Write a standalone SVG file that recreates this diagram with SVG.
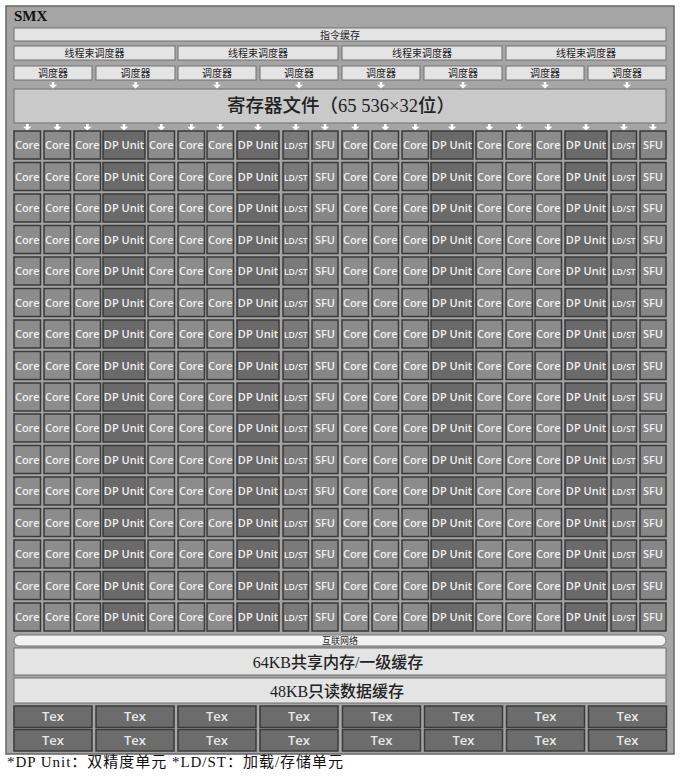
<svg xmlns="http://www.w3.org/2000/svg" width="681" height="779" viewBox="0 0 681 779">
<style>
.bar{fill:#e4e4e4;stroke:#707070;stroke-width:1}
.lbl{font-family:"Liberation Serif","Noto Sans CJK SC",serif;fill:#222;text-anchor:middle}
.cell rect{y:-18px;height:28px;stroke:#3a3a3a;stroke-width:1.5}
.cell text{font-family:"Open Sans","DejaVu Sans",sans-serif;font-size:11px;font-weight:600;fill:#f0f0f0;text-anchor:middle}
.co rect{width:26.5px;fill:#8c8c8c}
.dp rect{width:42px;fill:#6a6a6a}
.ls rect{width:25.5px;fill:#7a7a7a}
.ls text{font-size:8.5px}
.sf rect{width:26px;fill:#868686}
.tex rect{width:78px;height:21.5px;fill:#6c6c6c;stroke:#3a3a3a;stroke-width:1.5}
.tex text{font-family:"Open Sans","DejaVu Sans",sans-serif;font-size:13px;font-weight:600;fill:#e8e8e8;text-anchor:middle}
</style>
<defs>
<path id="arrow" d="M-1.3 0h2.6v2.8h2.8l-4.1 3.6l-4.1-3.6h2.8z" fill="#ffffff"/>
</defs>
<rect width="681" height="779" fill="#ffffff"/>
<g id="smx">
<rect x="6" y="6" width="668" height="748" fill="#a5a5a5" stroke="#666" stroke-width="1.5"/>
<text x="14" y="21" font-family="Liberation Serif, serif" font-size="15" font-weight="bold" fill="#111">SMX</text>
</g>
<g id="instruction-cache">
<rect class="bar" x="14" y="28" width="652" height="13" fill="#ececec"/>
<text class="lbl" x="340" y="38.5" font-size="10">指令缓存</text>
</g>
<g id="warp-schedulers">
<g id="warp-1"><rect class="bar" x="14" y="46" width="161" height="14"/><text class="lbl" x="94.5" y="57" font-size="10">线程束调度器</text></g>
<g id="warp-2"><rect class="bar" x="178" y="46" width="160" height="14"/><text class="lbl" x="258" y="57" font-size="10">线程束调度器</text></g>
<g id="warp-3"><rect class="bar" x="342" y="46" width="160" height="14"/><text class="lbl" x="422" y="57" font-size="10">线程束调度器</text></g>
<g id="warp-4"><rect class="bar" x="506" y="46" width="160" height="14"/><text class="lbl" x="586" y="57" font-size="10">线程束调度器</text></g>
</g>
<g id="dispatchers">
<g id="disp-1"><rect class="bar" x="14" y="66" width="78" height="14"/><text class="lbl" x="53" y="77" font-size="10">调度器</text></g>
<g id="disp-2"><rect class="bar" x="96" y="66" width="79" height="14"/><text class="lbl" x="135.5" y="77" font-size="10">调度器</text></g>
<g id="disp-3"><rect class="bar" x="178" y="66" width="78" height="14"/><text class="lbl" x="217" y="77" font-size="10">调度器</text></g>
<g id="disp-4"><rect class="bar" x="260" y="66" width="78" height="14"/><text class="lbl" x="299" y="77" font-size="10">调度器</text></g>
<g id="disp-5"><rect class="bar" x="342" y="66" width="78" height="14"/><text class="lbl" x="381" y="77" font-size="10">调度器</text></g>
<g id="disp-6"><rect class="bar" x="424" y="66" width="78" height="14"/><text class="lbl" x="463" y="77" font-size="10">调度器</text></g>
<g id="disp-7"><rect class="bar" x="506" y="66" width="78" height="14"/><text class="lbl" x="545" y="77" font-size="10">调度器</text></g>
<g id="disp-8"><rect class="bar" x="588" y="66" width="78" height="14"/><text class="lbl" x="627" y="77" font-size="10">调度器</text></g>
</g>
<g id="register-file">
<rect x="14" y="89" width="652" height="34" fill="#c9c9c9" stroke="#707070" stroke-width="1"/>
<text class="lbl" x="341" y="112" font-size="18.5" font-weight="500">寄存器文件（65 536×32位）</text>
</g>
<g id="connectors">
<use href="#arrow" x="53" y="82"/><use href="#arrow" x="135.5" y="82"/><use href="#arrow" x="217" y="82"/><use href="#arrow" x="299" y="82"/>
<use href="#arrow" x="381" y="82"/><use href="#arrow" x="463" y="82"/><use href="#arrow" x="545" y="82"/><use href="#arrow" x="627" y="82"/>
<use href="#arrow" x="27.3" y="124"/><use href="#arrow" x="57.3" y="124"/><use href="#arrow" x="87.3" y="124"/><use href="#arrow" x="124" y="124"/>
<use href="#arrow" x="161.3" y="124"/><use href="#arrow" x="191.3" y="124"/><use href="#arrow" x="220.3" y="124"/><use href="#arrow" x="258" y="124"/>
<use href="#arrow" x="295.8" y="124"/><use href="#arrow" x="325" y="124"/><use href="#arrow" x="355.3" y="124"/><use href="#arrow" x="385.3" y="124"/>
<use href="#arrow" x="415.3" y="124"/><use href="#arrow" x="452" y="124"/><use href="#arrow" x="489.3" y="124"/><use href="#arrow" x="519.3" y="124"/>
<use href="#arrow" x="548.3" y="124"/><use href="#arrow" x="586" y="124"/><use href="#arrow" x="623.8" y="124"/><use href="#arrow" x="653" y="124"/>
</g>
<g id="cores">
<g id="row-1" class="cell" transform="translate(0,149)">
<g id="r1c1" class="co"><rect x="14"/><text x="27.3">Core</text></g><g id="r1c2" class="co"><rect x="44"/><text x="57.3">Core</text></g><g id="r1c3" class="co"><rect x="74"/><text x="87.3">Core</text></g><g id="r1c4" class="dp"><rect x="103"/><text x="124">DP Unit</text></g><g id="r1c5" class="co"><rect x="148"/><text x="161.3">Core</text></g><g id="r1c6" class="co"><rect x="178"/><text x="191.3">Core</text></g><g id="r1c7" class="co"><rect x="207"/><text x="220.3">Core</text></g><g id="r1c8" class="dp"><rect x="237"/><text x="258">DP Unit</text></g><g id="r1c9" class="ls"><rect x="283"/><text x="295.8">LD/ST</text></g><g id="r1c10" class="sf"><rect x="312"/><text x="325">SFU</text></g>
<g id="r1c11" class="co"><rect x="342"/><text x="355.3">Core</text></g><g id="r1c12" class="co"><rect x="372"/><text x="385.3">Core</text></g><g id="r1c13" class="co"><rect x="402"/><text x="415.3">Core</text></g><g id="r1c14" class="dp"><rect x="431"/><text x="452">DP Unit</text></g><g id="r1c15" class="co"><rect x="476"/><text x="489.3">Core</text></g><g id="r1c16" class="co"><rect x="506"/><text x="519.3">Core</text></g><g id="r1c17" class="co"><rect x="535"/><text x="548.3">Core</text></g><g id="r1c18" class="dp"><rect x="565"/><text x="586">DP Unit</text></g><g id="r1c19" class="ls"><rect x="611"/><text x="623.8">LD/ST</text></g><g id="r1c20" class="sf"><rect x="640"/><text x="653">SFU</text></g>
</g>
<g id="row-2" class="cell" transform="translate(0,180.5)">
<g id="r2c1" class="co"><rect x="14"/><text x="27.3">Core</text></g><g id="r2c2" class="co"><rect x="44"/><text x="57.3">Core</text></g><g id="r2c3" class="co"><rect x="74"/><text x="87.3">Core</text></g><g id="r2c4" class="dp"><rect x="103"/><text x="124">DP Unit</text></g><g id="r2c5" class="co"><rect x="148"/><text x="161.3">Core</text></g><g id="r2c6" class="co"><rect x="178"/><text x="191.3">Core</text></g><g id="r2c7" class="co"><rect x="207"/><text x="220.3">Core</text></g><g id="r2c8" class="dp"><rect x="237"/><text x="258">DP Unit</text></g><g id="r2c9" class="ls"><rect x="283"/><text x="295.8">LD/ST</text></g><g id="r2c10" class="sf"><rect x="312"/><text x="325">SFU</text></g>
<g id="r2c11" class="co"><rect x="342"/><text x="355.3">Core</text></g><g id="r2c12" class="co"><rect x="372"/><text x="385.3">Core</text></g><g id="r2c13" class="co"><rect x="402"/><text x="415.3">Core</text></g><g id="r2c14" class="dp"><rect x="431"/><text x="452">DP Unit</text></g><g id="r2c15" class="co"><rect x="476"/><text x="489.3">Core</text></g><g id="r2c16" class="co"><rect x="506"/><text x="519.3">Core</text></g><g id="r2c17" class="co"><rect x="535"/><text x="548.3">Core</text></g><g id="r2c18" class="dp"><rect x="565"/><text x="586">DP Unit</text></g><g id="r2c19" class="ls"><rect x="611"/><text x="623.8">LD/ST</text></g><g id="r2c20" class="sf"><rect x="640"/><text x="653">SFU</text></g>
</g>
<g id="row-3" class="cell" transform="translate(0,212)">
<g id="r3c1" class="co"><rect x="14"/><text x="27.3">Core</text></g><g id="r3c2" class="co"><rect x="44"/><text x="57.3">Core</text></g><g id="r3c3" class="co"><rect x="74"/><text x="87.3">Core</text></g><g id="r3c4" class="dp"><rect x="103"/><text x="124">DP Unit</text></g><g id="r3c5" class="co"><rect x="148"/><text x="161.3">Core</text></g><g id="r3c6" class="co"><rect x="178"/><text x="191.3">Core</text></g><g id="r3c7" class="co"><rect x="207"/><text x="220.3">Core</text></g><g id="r3c8" class="dp"><rect x="237"/><text x="258">DP Unit</text></g><g id="r3c9" class="ls"><rect x="283"/><text x="295.8">LD/ST</text></g><g id="r3c10" class="sf"><rect x="312"/><text x="325">SFU</text></g>
<g id="r3c11" class="co"><rect x="342"/><text x="355.3">Core</text></g><g id="r3c12" class="co"><rect x="372"/><text x="385.3">Core</text></g><g id="r3c13" class="co"><rect x="402"/><text x="415.3">Core</text></g><g id="r3c14" class="dp"><rect x="431"/><text x="452">DP Unit</text></g><g id="r3c15" class="co"><rect x="476"/><text x="489.3">Core</text></g><g id="r3c16" class="co"><rect x="506"/><text x="519.3">Core</text></g><g id="r3c17" class="co"><rect x="535"/><text x="548.3">Core</text></g><g id="r3c18" class="dp"><rect x="565"/><text x="586">DP Unit</text></g><g id="r3c19" class="ls"><rect x="611"/><text x="623.8">LD/ST</text></g><g id="r3c20" class="sf"><rect x="640"/><text x="653">SFU</text></g>
</g>
<g id="row-4" class="cell" transform="translate(0,243.5)">
<g id="r4c1" class="co"><rect x="14"/><text x="27.3">Core</text></g><g id="r4c2" class="co"><rect x="44"/><text x="57.3">Core</text></g><g id="r4c3" class="co"><rect x="74"/><text x="87.3">Core</text></g><g id="r4c4" class="dp"><rect x="103"/><text x="124">DP Unit</text></g><g id="r4c5" class="co"><rect x="148"/><text x="161.3">Core</text></g><g id="r4c6" class="co"><rect x="178"/><text x="191.3">Core</text></g><g id="r4c7" class="co"><rect x="207"/><text x="220.3">Core</text></g><g id="r4c8" class="dp"><rect x="237"/><text x="258">DP Unit</text></g><g id="r4c9" class="ls"><rect x="283"/><text x="295.8">LD/ST</text></g><g id="r4c10" class="sf"><rect x="312"/><text x="325">SFU</text></g>
<g id="r4c11" class="co"><rect x="342"/><text x="355.3">Core</text></g><g id="r4c12" class="co"><rect x="372"/><text x="385.3">Core</text></g><g id="r4c13" class="co"><rect x="402"/><text x="415.3">Core</text></g><g id="r4c14" class="dp"><rect x="431"/><text x="452">DP Unit</text></g><g id="r4c15" class="co"><rect x="476"/><text x="489.3">Core</text></g><g id="r4c16" class="co"><rect x="506"/><text x="519.3">Core</text></g><g id="r4c17" class="co"><rect x="535"/><text x="548.3">Core</text></g><g id="r4c18" class="dp"><rect x="565"/><text x="586">DP Unit</text></g><g id="r4c19" class="ls"><rect x="611"/><text x="623.8">LD/ST</text></g><g id="r4c20" class="sf"><rect x="640"/><text x="653">SFU</text></g>
</g>
<g id="row-5" class="cell" transform="translate(0,275)">
<g id="r5c1" class="co"><rect x="14"/><text x="27.3">Core</text></g><g id="r5c2" class="co"><rect x="44"/><text x="57.3">Core</text></g><g id="r5c3" class="co"><rect x="74"/><text x="87.3">Core</text></g><g id="r5c4" class="dp"><rect x="103"/><text x="124">DP Unit</text></g><g id="r5c5" class="co"><rect x="148"/><text x="161.3">Core</text></g><g id="r5c6" class="co"><rect x="178"/><text x="191.3">Core</text></g><g id="r5c7" class="co"><rect x="207"/><text x="220.3">Core</text></g><g id="r5c8" class="dp"><rect x="237"/><text x="258">DP Unit</text></g><g id="r5c9" class="ls"><rect x="283"/><text x="295.8">LD/ST</text></g><g id="r5c10" class="sf"><rect x="312"/><text x="325">SFU</text></g>
<g id="r5c11" class="co"><rect x="342"/><text x="355.3">Core</text></g><g id="r5c12" class="co"><rect x="372"/><text x="385.3">Core</text></g><g id="r5c13" class="co"><rect x="402"/><text x="415.3">Core</text></g><g id="r5c14" class="dp"><rect x="431"/><text x="452">DP Unit</text></g><g id="r5c15" class="co"><rect x="476"/><text x="489.3">Core</text></g><g id="r5c16" class="co"><rect x="506"/><text x="519.3">Core</text></g><g id="r5c17" class="co"><rect x="535"/><text x="548.3">Core</text></g><g id="r5c18" class="dp"><rect x="565"/><text x="586">DP Unit</text></g><g id="r5c19" class="ls"><rect x="611"/><text x="623.8">LD/ST</text></g><g id="r5c20" class="sf"><rect x="640"/><text x="653">SFU</text></g>
</g>
<g id="row-6" class="cell" transform="translate(0,306.5)">
<g id="r6c1" class="co"><rect x="14"/><text x="27.3">Core</text></g><g id="r6c2" class="co"><rect x="44"/><text x="57.3">Core</text></g><g id="r6c3" class="co"><rect x="74"/><text x="87.3">Core</text></g><g id="r6c4" class="dp"><rect x="103"/><text x="124">DP Unit</text></g><g id="r6c5" class="co"><rect x="148"/><text x="161.3">Core</text></g><g id="r6c6" class="co"><rect x="178"/><text x="191.3">Core</text></g><g id="r6c7" class="co"><rect x="207"/><text x="220.3">Core</text></g><g id="r6c8" class="dp"><rect x="237"/><text x="258">DP Unit</text></g><g id="r6c9" class="ls"><rect x="283"/><text x="295.8">LD/ST</text></g><g id="r6c10" class="sf"><rect x="312"/><text x="325">SFU</text></g>
<g id="r6c11" class="co"><rect x="342"/><text x="355.3">Core</text></g><g id="r6c12" class="co"><rect x="372"/><text x="385.3">Core</text></g><g id="r6c13" class="co"><rect x="402"/><text x="415.3">Core</text></g><g id="r6c14" class="dp"><rect x="431"/><text x="452">DP Unit</text></g><g id="r6c15" class="co"><rect x="476"/><text x="489.3">Core</text></g><g id="r6c16" class="co"><rect x="506"/><text x="519.3">Core</text></g><g id="r6c17" class="co"><rect x="535"/><text x="548.3">Core</text></g><g id="r6c18" class="dp"><rect x="565"/><text x="586">DP Unit</text></g><g id="r6c19" class="ls"><rect x="611"/><text x="623.8">LD/ST</text></g><g id="r6c20" class="sf"><rect x="640"/><text x="653">SFU</text></g>
</g>
<g id="row-7" class="cell" transform="translate(0,338)">
<g id="r7c1" class="co"><rect x="14"/><text x="27.3">Core</text></g><g id="r7c2" class="co"><rect x="44"/><text x="57.3">Core</text></g><g id="r7c3" class="co"><rect x="74"/><text x="87.3">Core</text></g><g id="r7c4" class="dp"><rect x="103"/><text x="124">DP Unit</text></g><g id="r7c5" class="co"><rect x="148"/><text x="161.3">Core</text></g><g id="r7c6" class="co"><rect x="178"/><text x="191.3">Core</text></g><g id="r7c7" class="co"><rect x="207"/><text x="220.3">Core</text></g><g id="r7c8" class="dp"><rect x="237"/><text x="258">DP Unit</text></g><g id="r7c9" class="ls"><rect x="283"/><text x="295.8">LD/ST</text></g><g id="r7c10" class="sf"><rect x="312"/><text x="325">SFU</text></g>
<g id="r7c11" class="co"><rect x="342"/><text x="355.3">Core</text></g><g id="r7c12" class="co"><rect x="372"/><text x="385.3">Core</text></g><g id="r7c13" class="co"><rect x="402"/><text x="415.3">Core</text></g><g id="r7c14" class="dp"><rect x="431"/><text x="452">DP Unit</text></g><g id="r7c15" class="co"><rect x="476"/><text x="489.3">Core</text></g><g id="r7c16" class="co"><rect x="506"/><text x="519.3">Core</text></g><g id="r7c17" class="co"><rect x="535"/><text x="548.3">Core</text></g><g id="r7c18" class="dp"><rect x="565"/><text x="586">DP Unit</text></g><g id="r7c19" class="ls"><rect x="611"/><text x="623.8">LD/ST</text></g><g id="r7c20" class="sf"><rect x="640"/><text x="653">SFU</text></g>
</g>
<g id="row-8" class="cell" transform="translate(0,369.5)">
<g id="r8c1" class="co"><rect x="14"/><text x="27.3">Core</text></g><g id="r8c2" class="co"><rect x="44"/><text x="57.3">Core</text></g><g id="r8c3" class="co"><rect x="74"/><text x="87.3">Core</text></g><g id="r8c4" class="dp"><rect x="103"/><text x="124">DP Unit</text></g><g id="r8c5" class="co"><rect x="148"/><text x="161.3">Core</text></g><g id="r8c6" class="co"><rect x="178"/><text x="191.3">Core</text></g><g id="r8c7" class="co"><rect x="207"/><text x="220.3">Core</text></g><g id="r8c8" class="dp"><rect x="237"/><text x="258">DP Unit</text></g><g id="r8c9" class="ls"><rect x="283"/><text x="295.8">LD/ST</text></g><g id="r8c10" class="sf"><rect x="312"/><text x="325">SFU</text></g>
<g id="r8c11" class="co"><rect x="342"/><text x="355.3">Core</text></g><g id="r8c12" class="co"><rect x="372"/><text x="385.3">Core</text></g><g id="r8c13" class="co"><rect x="402"/><text x="415.3">Core</text></g><g id="r8c14" class="dp"><rect x="431"/><text x="452">DP Unit</text></g><g id="r8c15" class="co"><rect x="476"/><text x="489.3">Core</text></g><g id="r8c16" class="co"><rect x="506"/><text x="519.3">Core</text></g><g id="r8c17" class="co"><rect x="535"/><text x="548.3">Core</text></g><g id="r8c18" class="dp"><rect x="565"/><text x="586">DP Unit</text></g><g id="r8c19" class="ls"><rect x="611"/><text x="623.8">LD/ST</text></g><g id="r8c20" class="sf"><rect x="640"/><text x="653">SFU</text></g>
</g>
<g id="row-9" class="cell" transform="translate(0,401)">
<g id="r9c1" class="co"><rect x="14"/><text x="27.3">Core</text></g><g id="r9c2" class="co"><rect x="44"/><text x="57.3">Core</text></g><g id="r9c3" class="co"><rect x="74"/><text x="87.3">Core</text></g><g id="r9c4" class="dp"><rect x="103"/><text x="124">DP Unit</text></g><g id="r9c5" class="co"><rect x="148"/><text x="161.3">Core</text></g><g id="r9c6" class="co"><rect x="178"/><text x="191.3">Core</text></g><g id="r9c7" class="co"><rect x="207"/><text x="220.3">Core</text></g><g id="r9c8" class="dp"><rect x="237"/><text x="258">DP Unit</text></g><g id="r9c9" class="ls"><rect x="283"/><text x="295.8">LD/ST</text></g><g id="r9c10" class="sf"><rect x="312"/><text x="325">SFU</text></g>
<g id="r9c11" class="co"><rect x="342"/><text x="355.3">Core</text></g><g id="r9c12" class="co"><rect x="372"/><text x="385.3">Core</text></g><g id="r9c13" class="co"><rect x="402"/><text x="415.3">Core</text></g><g id="r9c14" class="dp"><rect x="431"/><text x="452">DP Unit</text></g><g id="r9c15" class="co"><rect x="476"/><text x="489.3">Core</text></g><g id="r9c16" class="co"><rect x="506"/><text x="519.3">Core</text></g><g id="r9c17" class="co"><rect x="535"/><text x="548.3">Core</text></g><g id="r9c18" class="dp"><rect x="565"/><text x="586">DP Unit</text></g><g id="r9c19" class="ls"><rect x="611"/><text x="623.8">LD/ST</text></g><g id="r9c20" class="sf"><rect x="640"/><text x="653">SFU</text></g>
</g>
<g id="row-10" class="cell" transform="translate(0,432)">
<g id="r10c1" class="co"><rect x="14"/><text x="27.3">Core</text></g><g id="r10c2" class="co"><rect x="44"/><text x="57.3">Core</text></g><g id="r10c3" class="co"><rect x="74"/><text x="87.3">Core</text></g><g id="r10c4" class="dp"><rect x="103"/><text x="124">DP Unit</text></g><g id="r10c5" class="co"><rect x="148"/><text x="161.3">Core</text></g><g id="r10c6" class="co"><rect x="178"/><text x="191.3">Core</text></g><g id="r10c7" class="co"><rect x="207"/><text x="220.3">Core</text></g><g id="r10c8" class="dp"><rect x="237"/><text x="258">DP Unit</text></g><g id="r10c9" class="ls"><rect x="283"/><text x="295.8">LD/ST</text></g><g id="r10c10" class="sf"><rect x="312"/><text x="325">SFU</text></g>
<g id="r10c11" class="co"><rect x="342"/><text x="355.3">Core</text></g><g id="r10c12" class="co"><rect x="372"/><text x="385.3">Core</text></g><g id="r10c13" class="co"><rect x="402"/><text x="415.3">Core</text></g><g id="r10c14" class="dp"><rect x="431"/><text x="452">DP Unit</text></g><g id="r10c15" class="co"><rect x="476"/><text x="489.3">Core</text></g><g id="r10c16" class="co"><rect x="506"/><text x="519.3">Core</text></g><g id="r10c17" class="co"><rect x="535"/><text x="548.3">Core</text></g><g id="r10c18" class="dp"><rect x="565"/><text x="586">DP Unit</text></g><g id="r10c19" class="ls"><rect x="611"/><text x="623.8">LD/ST</text></g><g id="r10c20" class="sf"><rect x="640"/><text x="653">SFU</text></g>
</g>
<g id="row-11" class="cell" transform="translate(0,463.5)">
<g id="r11c1" class="co"><rect x="14"/><text x="27.3">Core</text></g><g id="r11c2" class="co"><rect x="44"/><text x="57.3">Core</text></g><g id="r11c3" class="co"><rect x="74"/><text x="87.3">Core</text></g><g id="r11c4" class="dp"><rect x="103"/><text x="124">DP Unit</text></g><g id="r11c5" class="co"><rect x="148"/><text x="161.3">Core</text></g><g id="r11c6" class="co"><rect x="178"/><text x="191.3">Core</text></g><g id="r11c7" class="co"><rect x="207"/><text x="220.3">Core</text></g><g id="r11c8" class="dp"><rect x="237"/><text x="258">DP Unit</text></g><g id="r11c9" class="ls"><rect x="283"/><text x="295.8">LD/ST</text></g><g id="r11c10" class="sf"><rect x="312"/><text x="325">SFU</text></g>
<g id="r11c11" class="co"><rect x="342"/><text x="355.3">Core</text></g><g id="r11c12" class="co"><rect x="372"/><text x="385.3">Core</text></g><g id="r11c13" class="co"><rect x="402"/><text x="415.3">Core</text></g><g id="r11c14" class="dp"><rect x="431"/><text x="452">DP Unit</text></g><g id="r11c15" class="co"><rect x="476"/><text x="489.3">Core</text></g><g id="r11c16" class="co"><rect x="506"/><text x="519.3">Core</text></g><g id="r11c17" class="co"><rect x="535"/><text x="548.3">Core</text></g><g id="r11c18" class="dp"><rect x="565"/><text x="586">DP Unit</text></g><g id="r11c19" class="ls"><rect x="611"/><text x="623.8">LD/ST</text></g><g id="r11c20" class="sf"><rect x="640"/><text x="653">SFU</text></g>
</g>
<g id="row-12" class="cell" transform="translate(0,495)">
<g id="r12c1" class="co"><rect x="14"/><text x="27.3">Core</text></g><g id="r12c2" class="co"><rect x="44"/><text x="57.3">Core</text></g><g id="r12c3" class="co"><rect x="74"/><text x="87.3">Core</text></g><g id="r12c4" class="dp"><rect x="103"/><text x="124">DP Unit</text></g><g id="r12c5" class="co"><rect x="148"/><text x="161.3">Core</text></g><g id="r12c6" class="co"><rect x="178"/><text x="191.3">Core</text></g><g id="r12c7" class="co"><rect x="207"/><text x="220.3">Core</text></g><g id="r12c8" class="dp"><rect x="237"/><text x="258">DP Unit</text></g><g id="r12c9" class="ls"><rect x="283"/><text x="295.8">LD/ST</text></g><g id="r12c10" class="sf"><rect x="312"/><text x="325">SFU</text></g>
<g id="r12c11" class="co"><rect x="342"/><text x="355.3">Core</text></g><g id="r12c12" class="co"><rect x="372"/><text x="385.3">Core</text></g><g id="r12c13" class="co"><rect x="402"/><text x="415.3">Core</text></g><g id="r12c14" class="dp"><rect x="431"/><text x="452">DP Unit</text></g><g id="r12c15" class="co"><rect x="476"/><text x="489.3">Core</text></g><g id="r12c16" class="co"><rect x="506"/><text x="519.3">Core</text></g><g id="r12c17" class="co"><rect x="535"/><text x="548.3">Core</text></g><g id="r12c18" class="dp"><rect x="565"/><text x="586">DP Unit</text></g><g id="r12c19" class="ls"><rect x="611"/><text x="623.8">LD/ST</text></g><g id="r12c20" class="sf"><rect x="640"/><text x="653">SFU</text></g>
</g>
<g id="row-13" class="cell" transform="translate(0,526.5)">
<g id="r13c1" class="co"><rect x="14"/><text x="27.3">Core</text></g><g id="r13c2" class="co"><rect x="44"/><text x="57.3">Core</text></g><g id="r13c3" class="co"><rect x="74"/><text x="87.3">Core</text></g><g id="r13c4" class="dp"><rect x="103"/><text x="124">DP Unit</text></g><g id="r13c5" class="co"><rect x="148"/><text x="161.3">Core</text></g><g id="r13c6" class="co"><rect x="178"/><text x="191.3">Core</text></g><g id="r13c7" class="co"><rect x="207"/><text x="220.3">Core</text></g><g id="r13c8" class="dp"><rect x="237"/><text x="258">DP Unit</text></g><g id="r13c9" class="ls"><rect x="283"/><text x="295.8">LD/ST</text></g><g id="r13c10" class="sf"><rect x="312"/><text x="325">SFU</text></g>
<g id="r13c11" class="co"><rect x="342"/><text x="355.3">Core</text></g><g id="r13c12" class="co"><rect x="372"/><text x="385.3">Core</text></g><g id="r13c13" class="co"><rect x="402"/><text x="415.3">Core</text></g><g id="r13c14" class="dp"><rect x="431"/><text x="452">DP Unit</text></g><g id="r13c15" class="co"><rect x="476"/><text x="489.3">Core</text></g><g id="r13c16" class="co"><rect x="506"/><text x="519.3">Core</text></g><g id="r13c17" class="co"><rect x="535"/><text x="548.3">Core</text></g><g id="r13c18" class="dp"><rect x="565"/><text x="586">DP Unit</text></g><g id="r13c19" class="ls"><rect x="611"/><text x="623.8">LD/ST</text></g><g id="r13c20" class="sf"><rect x="640"/><text x="653">SFU</text></g>
</g>
<g id="row-14" class="cell" transform="translate(0,558)">
<g id="r14c1" class="co"><rect x="14"/><text x="27.3">Core</text></g><g id="r14c2" class="co"><rect x="44"/><text x="57.3">Core</text></g><g id="r14c3" class="co"><rect x="74"/><text x="87.3">Core</text></g><g id="r14c4" class="dp"><rect x="103"/><text x="124">DP Unit</text></g><g id="r14c5" class="co"><rect x="148"/><text x="161.3">Core</text></g><g id="r14c6" class="co"><rect x="178"/><text x="191.3">Core</text></g><g id="r14c7" class="co"><rect x="207"/><text x="220.3">Core</text></g><g id="r14c8" class="dp"><rect x="237"/><text x="258">DP Unit</text></g><g id="r14c9" class="ls"><rect x="283"/><text x="295.8">LD/ST</text></g><g id="r14c10" class="sf"><rect x="312"/><text x="325">SFU</text></g>
<g id="r14c11" class="co"><rect x="342"/><text x="355.3">Core</text></g><g id="r14c12" class="co"><rect x="372"/><text x="385.3">Core</text></g><g id="r14c13" class="co"><rect x="402"/><text x="415.3">Core</text></g><g id="r14c14" class="dp"><rect x="431"/><text x="452">DP Unit</text></g><g id="r14c15" class="co"><rect x="476"/><text x="489.3">Core</text></g><g id="r14c16" class="co"><rect x="506"/><text x="519.3">Core</text></g><g id="r14c17" class="co"><rect x="535"/><text x="548.3">Core</text></g><g id="r14c18" class="dp"><rect x="565"/><text x="586">DP Unit</text></g><g id="r14c19" class="ls"><rect x="611"/><text x="623.8">LD/ST</text></g><g id="r14c20" class="sf"><rect x="640"/><text x="653">SFU</text></g>
</g>
<g id="row-15" class="cell" transform="translate(0,589.5)">
<g id="r15c1" class="co"><rect x="14"/><text x="27.3">Core</text></g><g id="r15c2" class="co"><rect x="44"/><text x="57.3">Core</text></g><g id="r15c3" class="co"><rect x="74"/><text x="87.3">Core</text></g><g id="r15c4" class="dp"><rect x="103"/><text x="124">DP Unit</text></g><g id="r15c5" class="co"><rect x="148"/><text x="161.3">Core</text></g><g id="r15c6" class="co"><rect x="178"/><text x="191.3">Core</text></g><g id="r15c7" class="co"><rect x="207"/><text x="220.3">Core</text></g><g id="r15c8" class="dp"><rect x="237"/><text x="258">DP Unit</text></g><g id="r15c9" class="ls"><rect x="283"/><text x="295.8">LD/ST</text></g><g id="r15c10" class="sf"><rect x="312"/><text x="325">SFU</text></g>
<g id="r15c11" class="co"><rect x="342"/><text x="355.3">Core</text></g><g id="r15c12" class="co"><rect x="372"/><text x="385.3">Core</text></g><g id="r15c13" class="co"><rect x="402"/><text x="415.3">Core</text></g><g id="r15c14" class="dp"><rect x="431"/><text x="452">DP Unit</text></g><g id="r15c15" class="co"><rect x="476"/><text x="489.3">Core</text></g><g id="r15c16" class="co"><rect x="506"/><text x="519.3">Core</text></g><g id="r15c17" class="co"><rect x="535"/><text x="548.3">Core</text></g><g id="r15c18" class="dp"><rect x="565"/><text x="586">DP Unit</text></g><g id="r15c19" class="ls"><rect x="611"/><text x="623.8">LD/ST</text></g><g id="r15c20" class="sf"><rect x="640"/><text x="653">SFU</text></g>
</g>
<g id="row-16" class="cell" transform="translate(0,621)">
<g id="r16c1" class="co"><rect x="14"/><text x="27.3">Core</text></g><g id="r16c2" class="co"><rect x="44"/><text x="57.3">Core</text></g><g id="r16c3" class="co"><rect x="74"/><text x="87.3">Core</text></g><g id="r16c4" class="dp"><rect x="103"/><text x="124">DP Unit</text></g><g id="r16c5" class="co"><rect x="148"/><text x="161.3">Core</text></g><g id="r16c6" class="co"><rect x="178"/><text x="191.3">Core</text></g><g id="r16c7" class="co"><rect x="207"/><text x="220.3">Core</text></g><g id="r16c8" class="dp"><rect x="237"/><text x="258">DP Unit</text></g><g id="r16c9" class="ls"><rect x="283"/><text x="295.8">LD/ST</text></g><g id="r16c10" class="sf"><rect x="312"/><text x="325">SFU</text></g>
<g id="r16c11" class="co"><rect x="342"/><text x="355.3">Core</text></g><g id="r16c12" class="co"><rect x="372"/><text x="385.3">Core</text></g><g id="r16c13" class="co"><rect x="402"/><text x="415.3">Core</text></g><g id="r16c14" class="dp"><rect x="431"/><text x="452">DP Unit</text></g><g id="r16c15" class="co"><rect x="476"/><text x="489.3">Core</text></g><g id="r16c16" class="co"><rect x="506"/><text x="519.3">Core</text></g><g id="r16c17" class="co"><rect x="535"/><text x="548.3">Core</text></g><g id="r16c18" class="dp"><rect x="565"/><text x="586">DP Unit</text></g><g id="r16c19" class="ls"><rect x="611"/><text x="623.8">LD/ST</text></g><g id="r16c20" class="sf"><rect x="640"/><text x="653">SFU</text></g>
</g>
</g>
<g id="interconnect">
<rect x="14" y="635" width="652" height="11" rx="5.5" fill="#f2f2f2" stroke="#707070" stroke-width="1"/>
<text class="lbl" x="340" y="644" font-size="9">互联网络</text>
</g>
<g id="shared-memory">
<rect class="bar" x="14" y="648" width="652" height="27"/>
<text class="lbl" x="338" y="668" font-size="16" font-weight="500">64KB共享内存/一级缓存</text>
</g>
<g id="readonly-cache">
<rect class="bar" x="14" y="678" width="652" height="25"/>
<text class="lbl" x="337" y="697" font-size="16" font-weight="500">48KB只读数据缓存</text>
</g>
<g id="tex-units">
<g id="tex-1" class="tex"><rect x="14" y="706"/><text x="53" y="721">Tex</text></g>
<g id="tex-2" class="tex"><rect x="96" y="706"/><text x="135" y="721">Tex</text></g>
<g id="tex-3" class="tex"><rect x="178" y="706"/><text x="217" y="721">Tex</text></g>
<g id="tex-4" class="tex"><rect x="260" y="706"/><text x="299" y="721">Tex</text></g>
<g id="tex-5" class="tex"><rect x="342.5" y="706"/><text x="381.5" y="721">Tex</text></g>
<g id="tex-6" class="tex"><rect x="424.5" y="706"/><text x="463.5" y="721">Tex</text></g>
<g id="tex-7" class="tex"><rect x="506.5" y="706"/><text x="545.5" y="721">Tex</text></g>
<g id="tex-8" class="tex"><rect x="588.5" y="706"/><text x="627.5" y="721">Tex</text></g>
<g id="tex-9" class="tex"><rect x="14" y="729.5"/><text x="53" y="744.5">Tex</text></g>
<g id="tex-10" class="tex"><rect x="96" y="729.5"/><text x="135" y="744.5">Tex</text></g>
<g id="tex-11" class="tex"><rect x="178" y="729.5"/><text x="217" y="744.5">Tex</text></g>
<g id="tex-12" class="tex"><rect x="260" y="729.5"/><text x="299" y="744.5">Tex</text></g>
<g id="tex-13" class="tex"><rect x="342.5" y="729.5"/><text x="381.5" y="744.5">Tex</text></g>
<g id="tex-14" class="tex"><rect x="424.5" y="729.5"/><text x="463.5" y="744.5">Tex</text></g>
<g id="tex-15" class="tex"><rect x="506.5" y="729.5"/><text x="545.5" y="744.5">Tex</text></g>
<g id="tex-16" class="tex"><rect x="588.5" y="729.5"/><text x="627.5" y="744.5">Tex</text></g>
</g>
<g id="caption">
<text x="7" y="767" font-family="Liberation Serif, Noto Sans CJK SC, serif" font-size="15" fill="#111" textLength="336" lengthAdjust="spacing">*DP Unit：双精度单元 *LD/ST：加载/存储单元</text>
</g>
</svg>
